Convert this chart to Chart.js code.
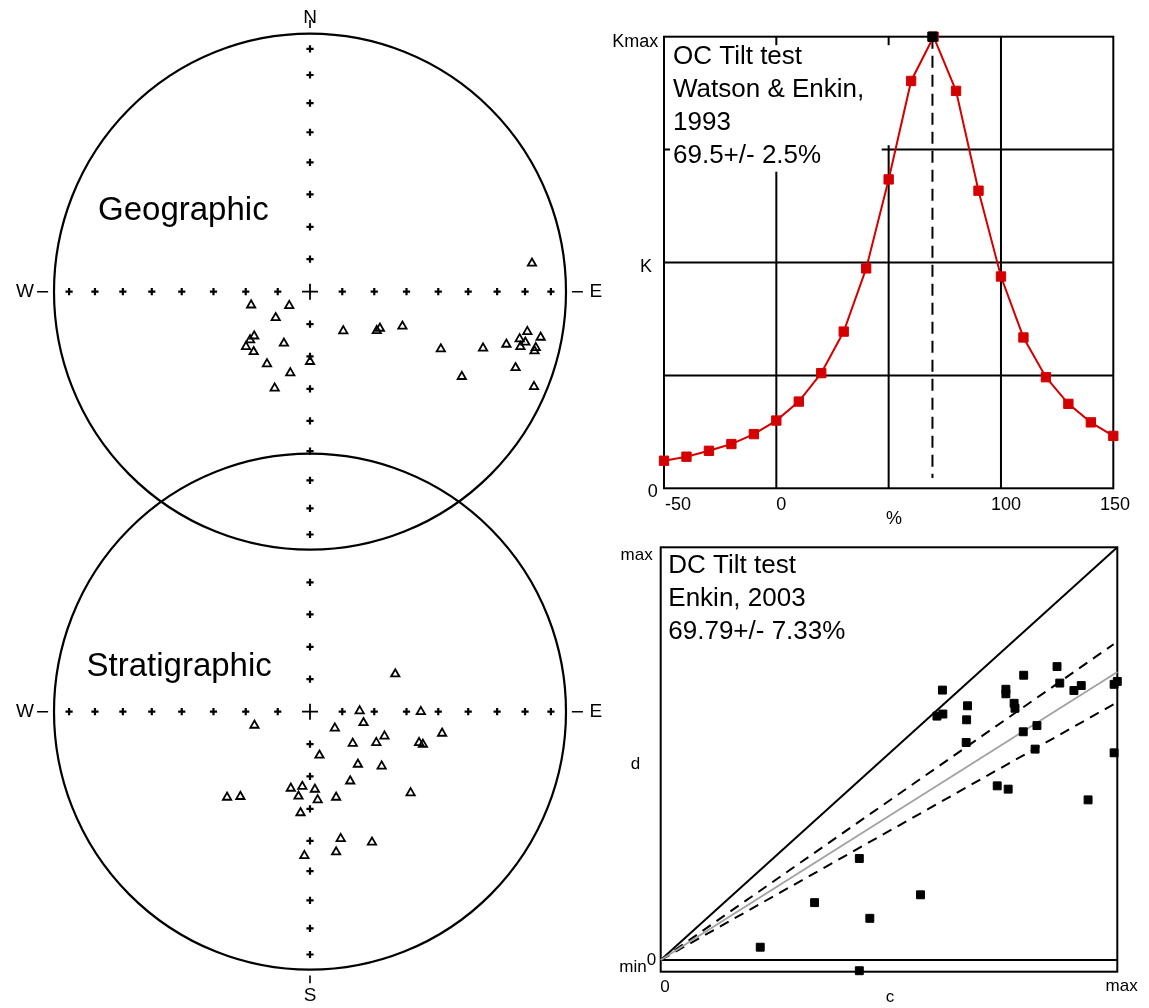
<!DOCTYPE html>
<html>
<head>
<meta charset="utf-8">
<title>Tilt tests</title>
<script src="https://cdn.jsdelivr.net/npm/chart.js@4.4.1/dist/chart.umd.min.js"></script>
<style>
  html, body { margin: 0; padding: 0; background: #fff; }
  #page { position: relative; width: 1149px; height: 1008px; overflow: hidden; background: #fff; }
  #page canvas { position: absolute; }
</style>
</head>
<body>
<div id="page">
  <canvas id="geo" width="620" height="560" style="left:0;top:0"></canvas>
  <canvas id="strat" width="620" height="578" style="left:0;top:430px"></canvas>
  <canvas id="oc" width="549" height="530" style="left:600px;top:0"></canvas>
  <canvas id="dc" width="549" height="478" style="left:600px;top:530px"></canvas>
</div>
<script>
// ---------- data ----------
// Equal-area positions of the site means (unit = primitive circle), geographic frame
const geoX = [-0.230, -0.081, -0.134, -0.218, -0.234, -0.250, -0.220, -0.102, -0.168, -0.077,
              -0.138,  0.000,  0.130,  0.261,  0.273,  0.361,  0.867,  0.511,  0.593,  0.676,
               0.767,  0.849,  0.901,  0.819,  0.841,  0.822,  0.882,  0.877,  0.803,  0.875];
const geoY = [-0.052, -0.054, -0.101, -0.172, -0.187, -0.213, -0.233, -0.200, -0.280, -0.315,
              -0.374, -0.271, -0.152, -0.151, -0.142, -0.134,  0.110, -0.222, -0.329, -0.219,
              -0.204, -0.155, -0.177, -0.183, -0.196, -0.213, -0.217, -0.230, -0.295, -0.368];
// Same directions after tilt correction (stratigraphic frame)
const stratX = [ 0.333,  0.194,  0.433, -0.217,  0.097,  0.209,  0.291,  0.259,  0.167,  0.426,
                 0.441,  0.516,  0.037,  0.187,  0.280,  0.157,  0.393, -0.324, -0.272, -0.075,
                -0.030,  0.019, -0.045,  0.030,  0.102, -0.037,  0.120,  0.242,  0.102, -0.022];
const stratY = [ 0.146,  0.003,  0.000, -0.053, -0.064, -0.043, -0.095, -0.120, -0.123, -0.120,
                -0.127, -0.084, -0.169, -0.204, -0.211, -0.269, -0.315, -0.332, -0.329, -0.297,
                -0.290, -0.301, -0.328, -0.342, -0.332, -0.392, -0.492, -0.506, -0.544, -0.558];
// Radii of the 10-degree inclination ticks along the N-S and E-W axes
const netTickRadii = [0.126, 0.251, 0.377, 0.501, 0.618, 0.731, 0.840, 0.941];

// OC tilt test: precision parameter versus percent unfolding
const ocPercent = [-50, -40, -30, -20, -10, 0, 10, 20, 30, 40, 50, 60, 70, 80, 90, 100, 110, 120, 130, 140, 150];
const ocK = [0.061, 0.070, 0.083, 0.098, 0.120, 0.150, 0.192, 0.255, 0.347, 0.487, 0.684,
             0.902, 1.000, 0.880, 0.659, 0.469, 0.334, 0.246, 0.187, 0.146, 0.116];
const ocBest = 69.5;
const ocErr = 2.5;
const ocTickValues = [-50, 0, 50, 100, 150];
const ocTickLabels = ['-50', '0', '', '100', '150'];
const ocKTickValues = [0, 0.25, 0.5, 0.75, 1];
const ocKTickLabels = ['0', '', 'K', '', 'Kmax'];
const ocXTitle = '%';

// DC tilt test: d versus c for each site
const dcC = [0.617, 0.605, 0.618, 0.672, 0.670, 0.669, 0.756, 0.756, 0.774, 0.776,
             0.795, 0.794, 0.824, 0.820, 0.868, 0.874, 0.905, 0.921, 0.993, 1.000,
             0.993, 0.936, 0.737, 0.761, 0.435, 0.337, 0.569, 0.458, 0.218, 0.435];
const dcD = [0.654, 0.591, 0.596, 0.616, 0.582, 0.527, 0.656, 0.645, 0.622, 0.610,
             0.690, 0.553, 0.568, 0.511, 0.711, 0.671, 0.653, 0.665, 0.668, 0.675,
             0.502, 0.388, 0.422, 0.414, 0.246, 0.139, 0.158, 0.101, 0.031, -0.026];
const dcBest = 69.79;
const dcErr = 7.33;

// ---------- shared settings ----------
const FONT = '"Liberation Sans", Arial, Helvetica, sans-serif';
const RED = '#d40000';
Chart.defaults.font.family = FONT;

const baseOptions = () => ({
  responsive: false,
  animation: false,
  devicePixelRatio: 1,
  events: [],
  plugins: { legend: { display: false }, tooltip: { enabled: false } }
});

// ---------- stereonets ----------
function netTickPoints(northCount) {
  const pts = [];
  netTickRadii.forEach((r, i) => {
    pts.push({ x: r, y: 0 }, { x: -r, y: 0 }, { x: 0, y: -r });
    if (i < northCount) pts.push({ x: 0, y: r });
  });
  return pts;
}

function netFrame(o) {
  return {
    id: 'netFrame',
    beforeDatasetsDraw(chart) {
      const { ctx, scales: { x, y } } = chart;
      const px = v => x.getPixelForValue(v);
      const py = v => y.getPixelForValue(v);
      const cx = px(0), cy = py(0);
      const rx = px(1) - cx, ry = cy - py(1);
      ctx.save();
      ctx.strokeStyle = '#000';
      ctx.lineWidth = 2.2;
      ctx.beginPath();
      ctx.ellipse(cx, cy, rx, ry, 0, 0, Math.PI * 2);
      ctx.stroke();

      // cardinal ticks just outside the primitive
      ctx.lineWidth = 1.6;
      ctx.beginPath();
      ctx.moveTo(px(-1.066), cy); ctx.lineTo(px(-1.023), cy);
      ctx.moveTo(px(1.023), cy); ctx.lineTo(px(1.066), cy);
      if (o.north) { ctx.moveTo(cx, py(1.022)); ctx.lineTo(cx, py(1.053)); }
      if (o.south) { ctx.moveTo(cx, py(-1.022)); ctx.lineTo(cx, py(-1.053)); }
      ctx.stroke();

      ctx.fillStyle = '#000';
      ctx.font = '19px ' + FONT;
      ctx.textAlign = 'center';
      ctx.textBaseline = 'middle';
      ctx.fillText('W', px(-1.113), cy);
      ctx.fillText('E', px(1.117), cy);
      if (o.north) ctx.fillText('N', cx, py(1.061));
      if (o.south) ctx.fillText('S', cx, py(-1.102));

      ctx.font = '33px ' + FONT;
      ctx.textAlign = 'left';
      ctx.textBaseline = 'alphabetic';
      ctx.fillText(o.title, px(o.titleX), py(o.titleY));
      ctx.restore();
    }
  };
}

function makeNet(id, xs, ys, o) {
  const canvas = document.getElementById(id);
  const W = canvas.width, H = canvas.height;
  const ux = 256, uy = 258;           // pixels per unit radius
  const opts = baseOptions();
  opts.layout = { autoPadding: false, padding: 0 };
  opts.scales = {
    x: { type: 'linear', display: false, bounds: 'data', min: -o.cx / ux, max: (W - o.cx) / ux },
    y: { type: 'linear', display: false, bounds: 'data', min: -(H - o.cy) / uy, max: o.cy / uy }
  };
  return new Chart(canvas, {
    type: 'scatter',
    data: {
      datasets: [
        {
          data: xs.map((v, i) => ({ x: v, y: ys[i] })),
          pointStyle: 'triangle', pointRadius: 4.8, pointBorderWidth: 1.8,
          pointBorderColor: '#000', pointBackgroundColor: 'rgba(0,0,0,0)', clip: false
        },
        {
          data: netTickPoints(o.northTicks),
          pointStyle: 'cross', pointRadius: 3.6, pointBorderWidth: 2.2,
          pointBorderColor: '#000', clip: false
        },
        {
          data: [{ x: 0, y: 0 }],
          pointStyle: 'cross', pointRadius: 8, pointBorderWidth: 1.8,
          pointBorderColor: '#000', clip: false
        }
      ]
    },
    options: opts,
    plugins: [netFrame(o)]
  });
}

makeNet('geo', geoX, geoY, {
  cx: 310, cy: 291.7, northTicks: 8, north: true, south: false,
  title: 'Geographic', titleX: -0.828, titleY: 0.278
});
makeNet('strat', stratX, stratY, {
  cx: 310, cy: 281.7, northTicks: 4, north: false, south: true,
  title: 'Stratigraphic', titleX: -0.873, titleY: 0.140
});

// ---------- OC tilt test ----------
const ocNote = ['OC Tilt test', 'Watson & Enkin,', '1993', ocBest + '+/- ' + ocErr + '%'];
const ocFrame = {
  id: 'ocFrame',
  beforeDatasetsDraw(chart) {
    const { ctx, chartArea: a, scales: { x, y } } = chart;
    ctx.save();
    ctx.strokeStyle = '#000';
    ctx.lineWidth = 2;
    ctx.beginPath();
    ocTickValues.forEach(v => {
      if (v > x.min && v < x.max) {
        const p = x.getPixelForValue(v);
        ctx.moveTo(p, a.top); ctx.lineTo(p, a.bottom);
      }
    });
    ocKTickValues.forEach(v => {
      if (v > y.min && v < y.max) {
        const p = y.getPixelForValue(v);
        ctx.moveTo(a.left, p); ctx.lineTo(a.right, p);
      }
    });
    ctx.stroke();
    ctx.strokeRect(a.left, a.top, a.right - a.left, a.bottom - a.top);

    // white backing behind the annotation
    ctx.fillStyle = '#fff';
    ctx.fillRect(a.left + 6, a.top + 8.5, 223, 100);
    ctx.fillRect(a.left + 6, a.top + 100, 211.7, 35);

    ctx.fillStyle = '#000';
    ctx.font = '26px ' + FONT;
    ctx.textAlign = 'left';
    ctx.textBaseline = 'alphabetic';
    ocNote.forEach((t, i) => ctx.fillText(t, a.left + 9, a.top + 27.6 + 33 * i));

    // axis labels
    ctx.font = '18px ' + FONT;
    ctx.textAlign = 'center';
    const xShift = [14, 5, 0, 5, 1.7];
    ocTickValues.forEach((v, i) => {
      if (ocTickLabels[i]) ctx.fillText(ocTickLabels[i], x.getPixelForValue(v) + xShift[i], a.bottom + 21.4);
    });
    ctx.fillText(ocXTitle, (x.getPixelForValue(ocTickValues[2])) + 5.3, a.bottom + 36);

    const yPlace = [
      { align: 'right', dx: -6.3, dy: 9 },
      null,
      { align: 'center', dx: -18, dy: 9.8 },
      null,
      { align: 'right', dx: -5.7, dy: 10.3 }
    ];
    ocKTickValues.forEach((v, i) => {
      const p = yPlace[i];
      if (!p || !ocKTickLabels[i]) return;
      ctx.textAlign = p.align;
      ctx.fillText(ocKTickLabels[i], a.left + p.dx, y.getPixelForValue(v) + p.dy);
    });
    ctx.restore();
  }
};

(function () {
  const opts = baseOptions();
  opts.layout = { autoPadding: false, padding: { left: 64, right: 35.7, top: 36.7, bottom: 41.7 } };
  opts.scales = {
    x: { type: 'linear', display: false, bounds: 'data', min: ocTickValues[0], max: ocTickValues[ocTickValues.length - 1] },
    y: { type: 'linear', display: false, bounds: 'data', min: 0, max: 1 }
  };
  new Chart(document.getElementById('oc'), {
    type: 'scatter',
    data: {
      datasets: [
        {
          data: [{ x: ocBest, y: 1 }],
          pointStyle: 'rect', pointRadius: 6.6, pointBorderWidth: 1,
          pointBackgroundColor: '#000', pointBorderColor: '#000', order: 0, clip: false
        },
        {
          data: ocPercent.map((p, i) => ({ x: p, y: ocK[i] })),
          showLine: true, borderColor: RED, borderWidth: 2,
          pointStyle: 'rect', pointRadius: 6.6, pointBorderWidth: 1,
          pointBackgroundColor: RED, pointBorderColor: RED, order: 1, clip: false
        },
        {
          data: [{ x: ocBest, y: 1 }, { x: ocBest, y: 0.023 }],
          showLine: true, borderColor: '#000', borderWidth: 2, borderDash: [12, 7],
          pointRadius: 0, order: 2, clip: false
        }
      ]
    },
    options: opts,
    plugins: [ocFrame]
  });
})();

// ---------- DC tilt test ----------
const dcNote = ['DC Tilt test', 'Enkin, 2003', dcBest + '+/- ' + dcErr + '%'];
const dcFrame = {
  id: 'dcFrame',
  beforeDatasetsDraw(chart) {
    const { ctx, chartArea: a, scales: { x, y } } = chart;
    ctx.save();
    ctx.strokeStyle = '#000';
    ctx.lineWidth = 2;
    ctx.strokeRect(a.left, a.top, a.right - a.left, a.bottom - a.top);
    const y0 = y.getPixelForValue(0);
    ctx.beginPath();
    ctx.moveTo(a.left, y0); ctx.lineTo(a.right, y0);
    ctx.stroke();

    ctx.fillStyle = '#000';
    ctx.font = '26px ' + FONT;
    ctx.textAlign = 'left';
    ctx.textBaseline = 'alphabetic';
    dcNote.forEach((t, i) => ctx.fillText(t, a.left + 7.6, a.top + 26 + 33 * i));

    ctx.font = '17px ' + FONT;
    ctx.textAlign = 'right';
    ctx.fillText('max', a.left - 8, y.getPixelForValue(1) + 13.1);
    ctx.fillText('min', a.left - 14, a.bottom + 0.2);
    ctx.textAlign = 'center';
    ctx.fillText('0', a.left - 9.2, y0 + 5);
    ctx.fillText('d', a.left - 25.2, (a.top + a.bottom) / 2 + 9.2);
    ctx.fillText('0', x.getPixelForValue(0) + 4.3, a.bottom + 20.3);
    ctx.fillText('max', x.getPixelForValue(1) + 4.3, a.bottom + 19.3);
    ctx.fillText('c', (a.left + a.right) / 2 + 1, a.bottom + 30.7);
    ctx.restore();
  }
};

(function () {
  const s = dcBest / 100, e = dcErr / 100;
  const xEnd = 0.992;
  const opts = baseOptions();
  opts.layout = { autoPadding: false, padding: { left: 60.7, right: 31.7, top: 17.3, bottom: 36.3 } };
  opts.scales = {
    x: { type: 'linear', display: false, bounds: 'data', min: 0, max: 1 },
    y: { type: 'linear', display: false, bounds: 'data', min: -0.02835, max: 1 }
  };
  const line = (pts, color, dash, order) => ({
    data: pts, showLine: true, borderColor: color, borderWidth: 2,
    borderDash: dash, pointRadius: 0, order: order, clip: false
  });
  new Chart(document.getElementById('dc'), {
    type: 'scatter',
    data: {
      datasets: [
        {
          data: dcC.map((c, i) => ({ x: c, y: dcD[i] })),
          pointStyle: 'rect', pointRadius: 5.6, pointBorderWidth: 1,
          pointBackgroundColor: '#000', pointBorderColor: '#000', order: 0, clip: false
        },
        line([{ x: 0, y: 0 }, { x: 1, y: s }], '#a3a3a3', [], 1),
        line([{ x: 0, y: 0 }, { x: xEnd, y: (s + e) * xEnd }], '#000', [10, 7], 2),
        line([{ x: 0, y: 0 }, { x: xEnd, y: (s - e) * xEnd }], '#000', [10, 7], 3),
        line([{ x: 0, y: 0 }, { x: 1, y: 1 }], '#000', [], 4)
      ]
    },
    options: opts,
    plugins: [dcFrame]
  });
})();
</script>
</body>
</html>
